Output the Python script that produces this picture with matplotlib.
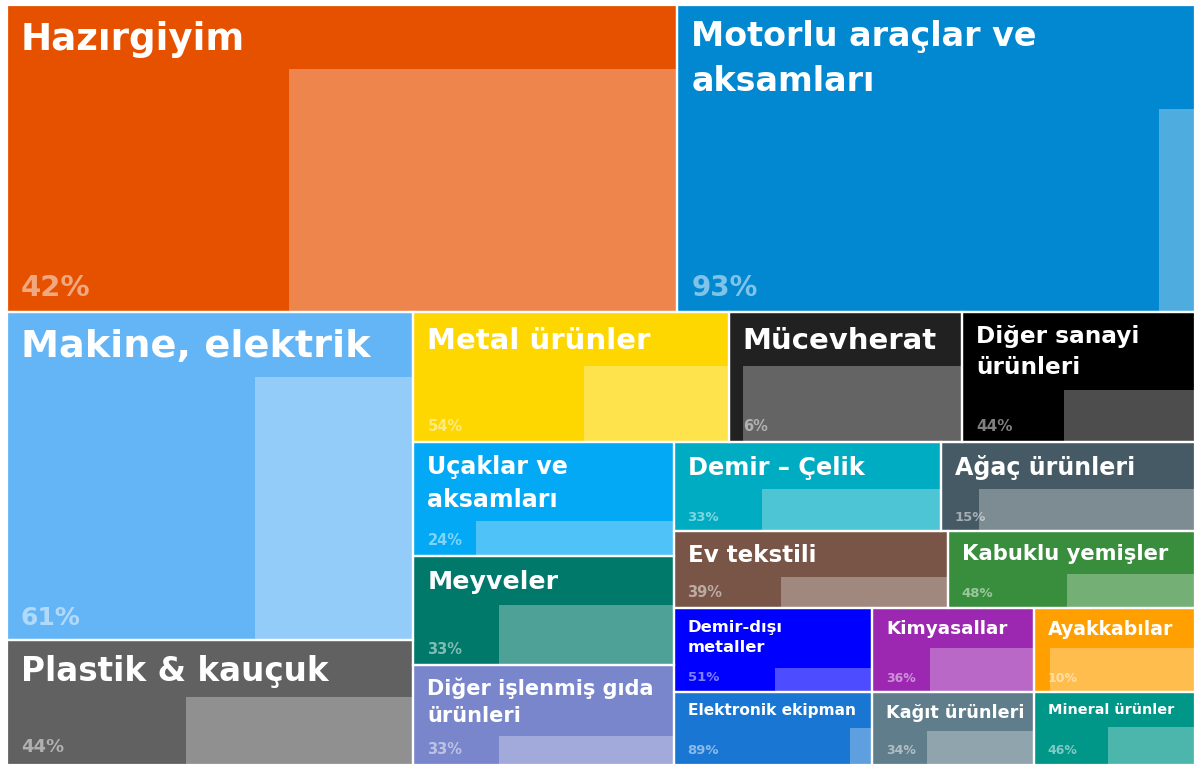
import matplotlib
matplotlib.use("Agg")
import matplotlib.pyplot as plt
from matplotlib.patches import Rectangle
from matplotlib.colors import to_rgb

# --- data ---
categories = [
    "Hazırgiyim", "Motorlu araçlar ve\naksamları", "Makine, elektrik", "Plastik & kauçuk",
    "Metal ürünler", "Mücevherat", "Diğer sanayi\nürünleri",
    "Uçaklar ve\naksamları", "Meyveler", "Diğer işlenmiş gıda\nürünleri",
    "Demir – Çelik", "Ağaç ürünleri", "Ev tekstili", "Kabuklu yemişler",
    "Demir-dışı\nmetaller", "Elektronik ekipman", "Kimyasallar", "Kağıt ürünleri",
    "Ayakkabılar", "Mineral ürünler",
]
values = [206, 159, 133, 51, 41, 30.3, 30.3, 29.6, 28.3, 26,
          23.8, 22.6, 21.1, 19.0, 16.6, 14.5, 13.6, 11.8, 13.5, 11.75]
shares = [42, 93, 61, 44, 54, 6, 44, 24, 33, 33,
          33, 15, 39, 48, 51, 89, 36, 34, 10, 46]

# --- style ---
colors = ["#E65100", "#0288D1", "#64B5F6", "#616161", "#FED700", "#212121", "#000000",
          "#03A9F4", "#00796B", "#7986CB", "#00ACC1", "#455A64", "#795548", "#388E3C",
          "#0000FF", "#1976D2", "#9C27B0", "#607D8B", "#FFA000", "#009688"]
title_sizes = [26.8, 24, 27.5, 23.5, 21, 21, 16.7, 17.1, 18.2, 15,
               17.4, 17.1, 16.6, 15.2, 11.8, 11.1, 13.2, 12.7, 13.6, 10.4]
pct_sizes = [21, 20, 18, 13, 10.5, 10.5, 11, 10.5, 10.5, 10.5,
             9.5, 9.5, 10.5, 9.5, 9.5, 9.5, 9, 9, 9, 9]

# nested split order: 'v' stacks children top to bottom, 'h' left to right
LAYOUT = ('v', [('h', [0, 1]),
                ('h', [('v', [2, 3]),
                       ('v', [('h', [4, 5, 6]),
                              ('h', [('v', [7, 8, 9]),
                                     ('v', [('h', [10, 11]),
                                            ('h', [12, 13]),
                                            ('h', [('v', [14, 15]),
                                                   ('v', [16, 17]),
                                                   ('v', [18, 19])])])])])])])

W, H = 1188, 760


def total(node):
    if isinstance(node, int):
        return values[node]
    return sum(total(c) for c in node[1])


def layout(node, x, y, w, h, out):
    if isinstance(node, int):
        out[node] = (x, y, w, h)
        return
    kind, children = node
    s = total(node)
    pos = 0.0
    for c in children:
        frac = total(c) / s
        if kind == 'h':
            layout(c, x + pos * w, y, frac * w, h, out)
        else:
            layout(c, x, y + pos * h, w, frac * h, out)
        pos += frac


def lighten(c, a=0.3):
    r, g, b = to_rgb(c)
    return (r + (1 - r) * a, g + (1 - g) * a, b + (1 - b) * a)


rects = {}
layout(LAYOUT, 0, 0, W, H, rects)

fig = plt.figure(figsize=(11.95, 7.65), dpi=100)
ax = fig.add_axes([7 / 1195, 0, W / 1195, H / 765])
ax.set_xlim(0, W)
ax.set_ylim(H, 0)
ax.axis('off')

FONT = ['DejaVu Sans']

for i, name in enumerate(categories):
    x, y, w, h = rects[i]
    fs = title_sizes[i]
    nlines = name.count("\n") + 1
    band = 16 + 1.78 * fs + (nlines - 1) * 1.9 * fs
    ax.add_patch(Rectangle((x, y), w, h, facecolor=colors[i], edgecolor='none', zorder=1))
    p = shares[i] / 100
    ax.add_patch(Rectangle((x + p * w, y + band), (1 - p) * w, h - band,
                           facecolor=lighten(colors[i]), edgecolor='none', zorder=2))
    ax.add_patch(Rectangle((x, y), w, h, facecolor='none', edgecolor='white',
                           linewidth=1.6, zorder=3))
    padx = 14
    ax.text(x + padx, y + 8 + 0.3 * fs, name, ha='left', va='top', color='white',
            fontsize=fs, fontweight='bold', family=FONT, linespacing=1.45, zorder=4)
    ps = pct_sizes[i]
    ax.text(x + padx, y + h - (6 + 0.5 * ps), f"{shares[i]}%", ha='left', va='baseline',
            color='white', alpha=0.5, fontsize=ps, fontweight='bold', family=FONT, zorder=4)

fig.savefig("out.png", dpi=100)
